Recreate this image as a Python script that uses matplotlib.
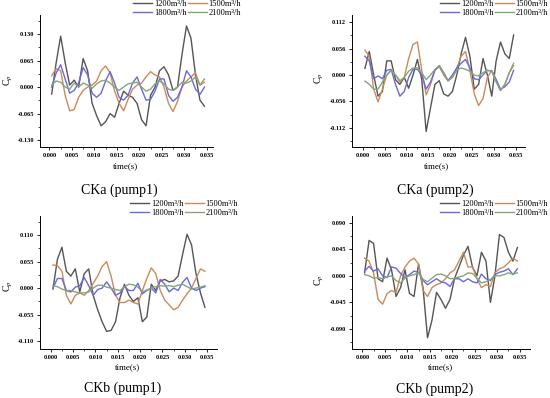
import matplotlib
matplotlib.use("Agg")
import matplotlib.pyplot as plt
from matplotlib.ticker import MultipleLocator, FormatStrFormatter
import numpy as np

plt.rcParams['font.family'] = ['Liberation Serif', 'DejaVu Serif']
plt.rcParams['mathtext.fontset'] = 'stix'

# time axis (s)
t = np.arange(0.0005, 0.0350, 0.001)

labels = ['1200m³/h', '1500m³/h', '1800m³/h', '2100m³/h']
colors = ['#555555', '#c98b5c', '#6a6ad8', '#86a67a']

# CKa (pump1)
cka1_1200 = [-0.017, 0.06, 0.125, 0.06, 0.005, 0.017, 0.0, 0.07, 0.04, -0.04, -0.07, -0.095,
             -0.085, -0.065, -0.074, -0.04, -0.01, -0.02, -0.025, -0.04, -0.08, -0.095, -0.02,
             0.0, 0.04, 0.05, 0.03, -0.008, 0.0, 0.08, 0.15, 0.12, 0.03, -0.032, -0.047]
cka1_1500 = [0.028, 0.045, 0.04, -0.02, -0.058, -0.055, -0.025, -0.008, 0.0, 0.005, 0.015, 0.04,
             0.052, 0.035, -0.01, -0.04, -0.058, -0.03, -0.005, 0.005, 0.01, 0.025, 0.038,
             0.03, 0.025, 0.0, -0.04, -0.06, -0.035, 0.0, 0.015, 0.025, 0.035, 0.005, 0.012]
cka1_1800 = [0.0, 0.035, 0.055, 0.02, -0.015, -0.008, 0.01, 0.048, 0.03, -0.015, -0.025, -0.015,
             0.015, 0.038, 0.01, -0.025, -0.032, -0.02, 0.01, 0.025, -0.005, -0.032, -0.03,
             -0.01, 0.02, 0.02, -0.02, -0.035, -0.025, 0.0, 0.04, 0.025, -0.005, -0.018, 0.0]
cka1_2100 = [0.005, 0.015, 0.012, 0.0, -0.005, 0.01, 0.0, 0.01, 0.005, -0.003, 0.008, 0.015,
             0.017, 0.01, 0.0, -0.008, 0.0, 0.008, 0.01, 0.012, 0.0, -0.01, -0.005,
             0.008, 0.015, 0.008, -0.005, -0.008, 0.0, 0.012, 0.01, 0.015, 0.025, 0.005, 0.02]

# CKa (pump2)
cka2_1200 = [0.014, 0.05, 0.0, -0.045, -0.035, 0.03, 0.03, -0.01, -0.02, -0.005, -0.028, 0.0,
             0.033, -0.01, -0.12, -0.07, -0.02, -0.012, -0.04, -0.045, -0.035, 0.0, 0.045,
             0.08, 0.04, -0.03, -0.02, 0.035, 0.0, -0.045, 0.03, 0.07, 0.045, 0.035, 0.085]
cka2_1500 = [0.053, 0.04, -0.03, -0.057, -0.03, 0.0, 0.01, 0.0, -0.015, -0.005, 0.035, 0.065,
             0.07, 0.01, -0.042, -0.02, 0.01, 0.018, 0.0, -0.012, -0.005, 0.015, 0.04,
             0.05, 0.01, -0.04, -0.065, -0.05, -0.005, 0.01, -0.01, -0.033, -0.02, 0.005, 0.025]
cka2_1800 = [0.04, 0.03, -0.008, -0.002, -0.008, 0.01, 0.012, -0.02, -0.045, -0.035, -0.005, 0.012,
             0.012, 0.0, -0.03, -0.015, 0.01, 0.02, 0.005, -0.012, 0.0, 0.015, 0.025,
             0.033, 0.015, -0.008, -0.01, 0.0, 0.01, 0.008, -0.01, -0.03, -0.025, -0.015, 0.01]
cka2_2100 = [-0.013, -0.02, -0.03, -0.03, -0.015, 0.0, 0.01, 0.0, -0.012, -0.005, 0.008, 0.015,
             0.015, 0.005, -0.01, 0.0, 0.012, 0.02, 0.005, -0.013, -0.005, 0.01, 0.015,
             0.012, 0.008, 0.0, -0.002, 0.005, 0.01, 0.008, -0.015, -0.033, -0.02, 0.005, 0.02]

# CKb (pump1)
ckb1_1200 = [-0.002, 0.06, 0.085, 0.035, 0.025, 0.04, -0.008, 0.03, 0.04, -0.015, -0.045, -0.07,
             -0.09, -0.088, -0.07, -0.02, 0.008, -0.015, -0.028, -0.02, -0.07, -0.06, 0.008,
             -0.005, 0.015, 0.018, 0.013, 0.015, 0.025, 0.07, 0.112, 0.09, 0.03, -0.01, -0.04]
ckb1_1500 = [0.048, 0.047, 0.035, -0.015, -0.033, -0.015, -0.01, -0.015, -0.005, 0.01, 0.025, 0.045,
             0.055, 0.025, -0.015, -0.03, -0.03, -0.025, -0.03, -0.033, -0.005, 0.02, 0.042,
             0.03, -0.005, -0.025, -0.035, -0.045, -0.04, -0.025, -0.012, 0.0, 0.02, 0.04, 0.035]
ckb1_1800 = [0.0, 0.02, 0.02, -0.005, -0.008, 0.002, 0.005, 0.022, 0.005, -0.015, -0.003, 0.0,
             0.013, 0.0, -0.015, -0.01, 0.003, -0.005, -0.005, 0.01, -0.012, -0.005, 0.0,
             -0.01, 0.018, 0.008, -0.008, 0.0, -0.005, 0.012, 0.022, 0.0, -0.005, 0.0, 0.003]
ckb1_2100 = [0.005, 0.003, -0.002, -0.005, -0.005, -0.008, -0.01, -0.01, -0.008, 0.0, 0.006, 0.006,
             0.002, 0.0, -0.003, -0.005, 0.003, 0.008, 0.007, 0.002, -0.008, -0.004, 0.0,
             0.003, 0.005, 0.004, 0.005, 0.003, 0.006, 0.008, 0.003, -0.002, 0.0, 0.002, 0.005]

# CKb (pump2)
ckb2_1200 = [0.005, 0.06, 0.055, -0.005, -0.01, 0.03, 0.01, -0.035, -0.02, 0.01, -0.03, -0.035,
             0.02, -0.02, -0.105, -0.075, -0.028, -0.04, -0.055, -0.04, -0.005, 0.015, 0.035,
             0.05, 0.015, 0.0, 0.04, 0.025, -0.045, 0.0, 0.07, 0.065, 0.04, 0.025, 0.048]
ckb2_1500 = [0.03, 0.025, 0.005, -0.04, -0.048, -0.03, -0.025, -0.028, 0.0, 0.015, 0.025, 0.03,
             0.02, -0.025, -0.035, -0.02, -0.015, -0.012, -0.005, 0.005, 0.01, 0.025, 0.04,
             0.015, 0.015, -0.005, -0.02, -0.015, -0.018, 0.005, 0.012, 0.015, 0.022, 0.03, 0.025]
ckb2_1800 = [0.008, 0.016, 0.008, 0.012, 0.0, -0.003, 0.015, 0.013, 0.004, -0.003, 0.002, 0.008,
             0.006, -0.008, -0.015, -0.01, -0.005, -0.01, -0.012, -0.018, -0.005, -0.005, -0.01,
             -0.005, -0.01, -0.012, 0.003, -0.005, -0.008, 0.002, 0.006, 0.008, 0.012, 0.002, 0.012]
ckb2_2100 = [0.002, 0.0, -0.004, -0.003, -0.005, -0.002, 0.0, -0.008, -0.012, -0.004, 0.0, 0.002,
             0.005, -0.006, -0.01, -0.004, 0.002, 0.003, 0.0, -0.005, -0.004, -0.002, 0.0,
             0.005, 0.004, -0.004, -0.012, -0.01, -0.006, 0.0, 0.0, 0.002, 0.005, 0.003, 0.005]

W, H = 550, 398
fig = plt.figure(figsize=(W / 100, H / 100), dpi=100)


def px_axes(l, r, top, bot):
    return fig.add_axes([l / W, 1 - bot / H, (r - l) / W, (bot - top) / H])


panels = [
    dict(box=(40, 213, 15, 147), xlim=(-0.0021, 0.0364), ylim=(-0.147, 0.177), ystep=0.065,
         series=[cka1_1200, cka1_1500, cka1_1800, cka1_2100], title='CKa (pump1)',
         title_xy=(119, 190), xlab_xy=(126, 166), ylab_xy=(8, 80), leg=(241, 0)),
    dict(box=(352, 525, 15, 147), xlim=(-0.00245, 0.0371), ylim=(-0.153, 0.1275), ystep=0.056,
         series=[cka2_1200, cka2_1500, cka2_1800, cka2_2100], title='CKa (pump2)',
         title_xy=(435, 190), xlab_xy=(437, 166), ylab_xy=(319, 78), leg=(548, 0)),
    dict(box=(40, 217, 216, 349), xlim=(-0.0024, 0.0372), ylim=(-0.1267, 0.150), ystep=0.055,
         series=[ckb1_1200, ckb1_1500, ckb1_1800, ckb1_2100], title='CKb (pump1)',
         title_xy=(123, 388), xlab_xy=(128, 367), ylab_xy=(8, 286), leg=(238, 200)),
    dict(box=(352, 530, 216, 349), xlim=(-0.0023, 0.0373), ylim=(-0.124, 0.1014), ystep=0.045,
         series=[ckb2_1200, ckb2_1500, ckb2_1800, ckb2_2100], title='CKb (pump2)',
         title_xy=(435, 389), xlab_xy=(441, 367), ylab_xy=(319, 280), leg=(548, 200)),
]

for p in panels:
    ax = px_axes(*p['box'])
    lines = []
    for vals, c, lab in zip(p['series'], colors, labels):
        ln, = ax.plot(t, vals, color=c, lw=1.0, label=lab)
        lines.append(ln)
    ax.set_xlim(*p['xlim'])
    ax.set_ylim(*p['ylim'])
    ax.spines['top'].set_visible(False)
    ax.spines['right'].set_visible(False)
    for s in ('left', 'bottom'):
        ax.spines[s].set_linewidth(0.7)
    ax.xaxis.set_major_locator(MultipleLocator(0.005))
    ax.xaxis.set_minor_locator(MultipleLocator(0.0025))
    ax.yaxis.set_major_locator(MultipleLocator(p['ystep']))
    ax.yaxis.set_minor_locator(MultipleLocator(p['ystep'] / 2))
    ax.xaxis.set_major_formatter(FormatStrFormatter('%.3f'))
    ax.yaxis.set_major_formatter(FormatStrFormatter('%.3f'))
    ax.tick_params(which='major', direction='out', length=2.2, width=0.6, labelsize=4.6, pad=2)
    ax.tick_params(which='minor', direction='out', length=1.2, width=0.5)
    for lbl in ax.get_xticklabels() + ax.get_yticklabels():
        lbl.set_fontweight('bold')
    fig.text(p['xlab_xy'][0] / W, 1 - p['xlab_xy'][1] / H, 'time(s)', fontsize=6.5,
             ha='center', va='center')
    fig.text(p['ylab_xy'][0] / W, 1 - p['ylab_xy'][1] / H, r'C$_p$', fontsize=7,
             ha='center', va='center', rotation=90)
    fig.text(p['title_xy'][0] / W, 1 - p['title_xy'][1] / H, p['title'], fontsize=10,
             ha='center', va='center')
    # legend rows: 1200 | 1500 on top, 1800 | 2100 below (column-major fill)
    order = [0, 2, 1, 3]
    fig.legend(handles=[lines[i] for i in order], labels=[labels[i] for i in order],
               ncol=2, loc='upper right',
               bbox_to_anchor=(p['leg'][0] / W, 1 - p['leg'][1] / H), frameon=False,
               fontsize=6, handlelength=2.3, handletextpad=0.2, columnspacing=0.1,
               labelspacing=0.15, borderpad=0, borderaxespad=0)

fig.savefig('out.png', dpi=100)
